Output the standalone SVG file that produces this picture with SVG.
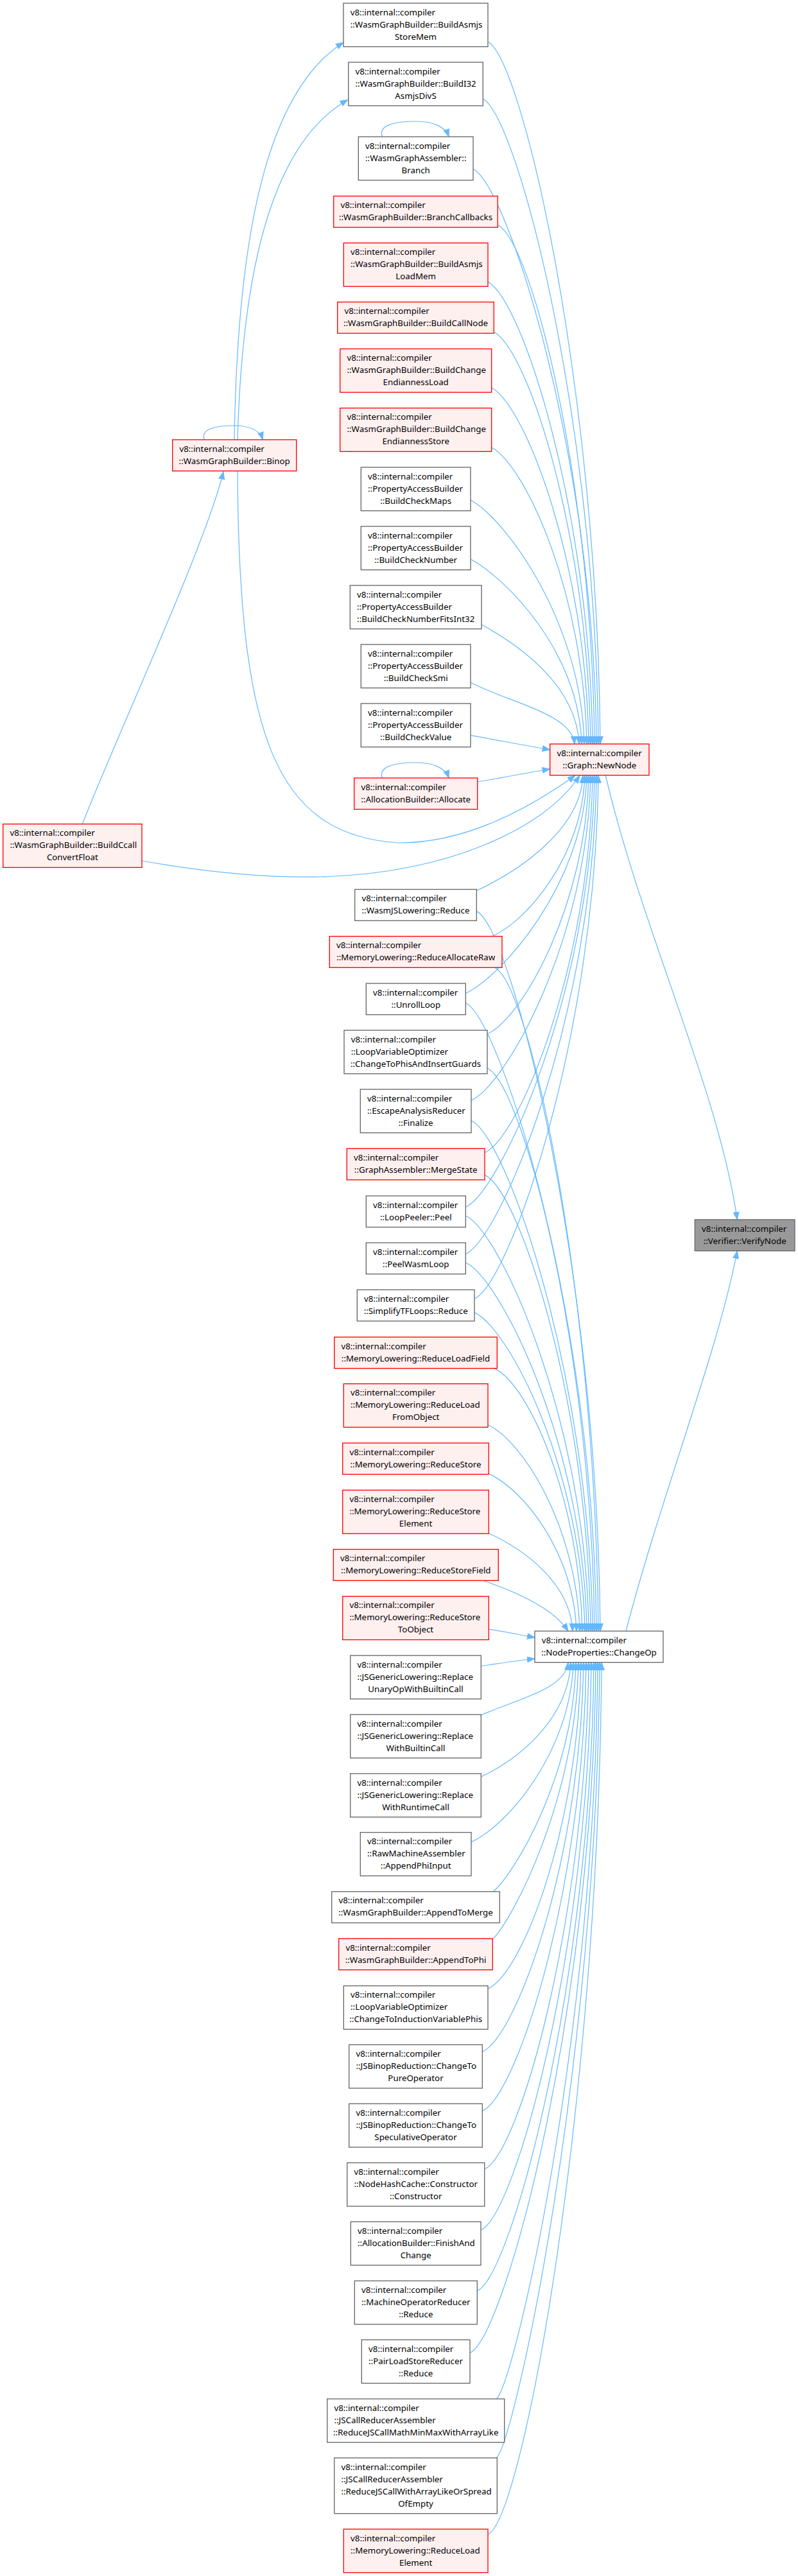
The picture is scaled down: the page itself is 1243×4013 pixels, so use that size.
<svg xmlns="http://www.w3.org/2000/svg" width="1243" height="4013" viewBox="0 0 1243 4013">
<style>
.n rect{stroke-width:1.33}
.w rect{fill:#ffffff;stroke:#666666}
.r rect{fill:#fff0f0;stroke:#ff0000}
.g rect{fill:#999999;stroke:#666666}
text{font-family:"Noto Sans","Liberation Sans",sans-serif;font-size:13.33px;fill:#000}
.m{text-anchor:middle}
#edges path{fill:none;stroke:#63b8ff;stroke-width:1.2;marker-end:url(#ah)}
</style>
<defs>
<marker id="ah" markerWidth="13" markerHeight="10" refX="12" refY="5" orient="auto" markerUnits="userSpaceOnUse">
<path d="M0,0.5 L12,5 L0,9.5 z" fill="#63b8ff" stroke="#63b8ff" stroke-width="1"/>
</marker>
</defs>
<rect x="0" y="0" width="1243" height="4013" fill="#ffffff"/>
<g id="edges">
<path d="M595.5,213 C589,196 612,189 648,189 C676,189 694,198 699,213"/>
<path d="M595.5,1212 C589,1195 612,1188 648,1188 C676,1188 694,1197 699,1212"/>
<path d="M318.3,685 C312,669 335,663 364,663 C390,663 405,671 409.3,685"/>
<path d="M365,685 C370,350 420,140 535,66"/>
<path d="M370,685 C378,400 430,220 541.7,155.4"/>
<path d="M128.3,1283.7 C180,1150 320,850 348,735"/>
<path d="M760,65 C815,95 931,612 935,1159"/>
<path d="M752.3,154 C807,184 928,657 932,1159"/>
<path d="M737,263 C792,293 925,711 929,1159"/>
<path d="M775.3,350 C830,380 922,754 926,1159"/>
<path d="M760,439 C815,469 919,799 923,1159"/>
<path d="M769.3,517 C824,547 916,838 920,1159"/>
<path d="M765.7,604 C820,634 913,881 917,1159"/>
<path d="M765.7,697 C820,727 910,928 914,1159"/>
<path d="M733,779 C788,809 906,969 910,1159"/>
<path d="M733,871 C788,901 902,1015 906,1159"/>
<path d="M750,973 C805,1003 898,1066 902,1159"/>
<path d="M733,1063 C788,1093 891,1111 895,1159"/>
<path d="M733,1145.7 C770,1152 810,1160 856.7,1168"/>
<path d="M743.7,1218 C780,1212 820,1204 856.7,1198"/>
<path d="M370,734 C372,1150 430,1300 620,1313 C730,1314 830,1255 896,1208"/>
<path d="M221,1341 C300,1355 400,1368 500,1366 C700,1360 850,1290 903,1208"/>
<path d="M742.3,1387.5 C797,1362 904,1298 908,1208"/>
<path d="M766.7,1458.6 C822,1434 907,1333 911,1208"/>
<path d="M725.3,1547.5 C780,1522 910,1378 914,1208"/>
<path d="M759,1610.7 C814,1586 913,1409 917,1208"/>
<path d="M734,1714.3 C789,1689 916,1461 920,1208"/>
<path d="M755,1795.7 C810,1771 919,1502 923,1208"/>
<path d="M725.3,1880.4 C780,1855 922,1544 926,1208"/>
<path d="M725.3,1953.6 C780,1929 925,1581 929,1208"/>
<path d="M739,2023.2 C794,1998 928,1616 932,1208"/>
<path d="M742.3,1419.6 C797,1445 931,1981 935,2541"/>
<path d="M770.7,1507.5 C826,1533 928,2025 932,2541"/>
<path d="M725.3,1562.5 C780,1588 925,2052 929,2541"/>
<path d="M759,1664 C814,1689 922,2103 926,2541"/>
<path d="M734,1745.7 C789,1771 919,2144 923,2541"/>
<path d="M755,1830.4 C810,1855 916,2186 920,2541"/>
<path d="M725.3,1894 C780,1919 913,2218 917,2541"/>
<path d="M725.3,1967 C780,1992 910,2254 914,2541"/>
<path d="M739,2044.6 C794,2070 907,2293 911,2541"/>
<path d="M769.3,2131.4 C824,2156 903,2337 907,2541"/>
<path d="M760,2219.6 C815,2245 899,2381 903,2541"/>
<path d="M761.3,2295.7 C816,2321 894,2419 898,2541"/>
<path d="M761.3,2388.6 C816,2414 888,2465 892,2541"/>
<path d="M751.7,2462 C790,2475 860,2502 885,2541"/>
<path d="M761.3,2538.2 C790,2542 810,2547 833,2551"/>
<path d="M749.3,2595.4 C780,2591 805,2587 833,2584"/>
<path d="M749.3,2672 C804,2647 881,2632 885,2589.7"/>
<path d="M749.3,2767.9 C804,2743 885,2680 889,2589.7"/>
<path d="M734,2869.6 C789,2845 889,2730 893,2589.7"/>
<path d="M768.3,2946.8 C800,2920 893,2769 897,2589.7"/>
<path d="M768.3,3020 C798,2990 897,2805 901,2589.7"/>
<path d="M760,3098.2 C815,3073 901,2844 905,2589.7"/>
<path d="M751.3,3196.4 C806,3171 905,2894 909,2589.7"/>
<path d="M751.3,3288.6 C806,3264 909,2940 913,2589.7"/>
<path d="M754.7,3379.3 C810,3354 913,2985 917,2589.7"/>
<path d="M749,3474.3 C804,3449 917,3032 921,2589.7"/>
<path d="M743.3,3568.9 C798,3544 921,3080 925,2589.7"/>
<path d="M732,3665.4 C787,3640 924,3128 928,2589.7"/>
<path d="M773.3,3737.1 C803,3707 927,3164 931,2589.7"/>
<path d="M773.3,3829 C803,3799 930,3210 934,2589.7"/>
<path d="M760,3948.3 C815,3923 933,3269 937,2589.7"/>
<path d="M943.3,1208 C1000,1450 1120,1700 1148.3,1900"/>
<path d="M975,2541 C1030,2330 1120,2100 1148.3,1948.7"/>
</g>
<g id="n_verify" class="n g"><rect x="1082.3" y="1900" width="155.7" height="48.7"/><text x="1093" y="1918.5">v8::internal::compiler</text><text class="m" x="1160.2" y="1937.5">::Verifier::VerifyNode</text></g>
<g id="n_newnode" class="n r"><rect x="856.7" y="1159" width="154.3" height="48.7"/><text x="867.4" y="1177.5">v8::internal::compiler</text><text class="m" x="933.9" y="1196.5">::Graph::NewNode</text></g>
<g id="n_changeop" class="n w"><rect x="833" y="2541" width="200" height="48.7"/><text x="843.7" y="2559.5">v8::internal::compiler</text><text class="m" x="933" y="2578.5">::NodeProperties::ChangeOp</text></g>
<g id="n_binop" class="n r"><rect x="268.7" y="685" width="193" height="48.7"/><text x="279.4" y="703.5">v8::internal::compiler</text><text class="m" x="365.2" y="722.5">::WasmGraphBuilder::Binop</text></g>
<g id="n_convertfloat" class="n r"><rect x="4.7" y="1283.7" width="216.3" height="67.7"/><text x="15.4" y="1302.2">v8::internal::compiler</text><text x="15.4" y="1321.2">::WasmGraphBuilder::BuildCcall</text><text class="m" x="112.9" y="1340.2">ConvertFloat</text></g>
<g id="n01" class="n w"><rect x="535" y="5" width="225" height="67.7"/><text x="545.7" y="23.5">v8::internal::compiler</text><text x="545.7" y="42.5">::WasmGraphBuilder::BuildAsmjs</text><text class="m" x="647.5" y="61.5">StoreMem</text></g>
<g id="n02" class="n w"><rect x="542.7" y="97" width="209.6" height="67.7"/><text x="553.4" y="115.5">v8::internal::compiler</text><text x="553.4" y="134.5">::WasmGraphBuilder::BuildI32</text><text class="m" x="647.5" y="153.5">AsmjsDivS</text></g>
<g id="n03" class="n w"><rect x="558.3" y="213" width="178.7" height="67.7"/><text x="569" y="231.5">v8::internal::compiler</text><text x="569" y="250.5">::WasmGraphAssembler::</text><text class="m" x="647.7" y="269.5">Branch</text></g>
<g id="n04" class="n r"><rect x="519.7" y="305.5" width="255.6" height="48.7"/><text x="530.4" y="324">v8::internal::compiler</text><text class="m" x="647.5" y="343">::WasmGraphBuilder::BranchCallbacks</text></g>
<g id="n05" class="n r"><rect x="535.3" y="378.5" width="224.7" height="67.7"/><text x="546" y="397">v8::internal::compiler</text><text x="546" y="416">::WasmGraphBuilder::BuildAsmjs</text><text class="m" x="647.7" y="435">LoadMem</text></g>
<g id="n06" class="n r"><rect x="525.7" y="470.5" width="243.6" height="48.7"/><text x="536.4" y="489">v8::internal::compiler</text><text class="m" x="647.5" y="508">::WasmGraphBuilder::BuildCallNode</text></g>
<g id="n07" class="n r"><rect x="529.7" y="543.5" width="236" height="67.7"/><text x="540.4" y="562">v8::internal::compiler</text><text x="540.4" y="581">::WasmGraphBuilder::BuildChange</text><text class="m" x="647.7" y="600">EndiannessLoad</text></g>
<g id="n08" class="n r"><rect x="529.7" y="635.7" width="236" height="67.7"/><text x="540.4" y="654.2">v8::internal::compiler</text><text x="540.4" y="673.2">::WasmGraphBuilder::BuildChange</text><text class="m" x="647.7" y="692.2">EndiannessStore</text></g>
<g id="n09" class="n w"><rect x="562.3" y="728" width="170.7" height="67.7"/><text x="573" y="746.5">v8::internal::compiler</text><text x="573" y="765.5">::PropertyAccessBuilder</text><text class="m" x="647.7" y="784.5">::BuildCheckMaps</text></g>
<g id="n10" class="n w"><rect x="562.3" y="820" width="170.7" height="67.7"/><text x="573" y="838.5">v8::internal::compiler</text><text x="573" y="857.5">::PropertyAccessBuilder</text><text class="m" x="647.7" y="876.5">::BuildCheckNumber</text></g>
<g id="n11" class="n w"><rect x="545.3" y="912" width="204.7" height="67.7"/><text x="556" y="930.5">v8::internal::compiler</text><text x="556" y="949.5">::PropertyAccessBuilder</text><text class="m" x="647.7" y="968.5">::BuildCheckNumberFitsInt32</text></g>
<g id="n12" class="n w"><rect x="562.3" y="1004" width="170.7" height="67.7"/><text x="573" y="1022.5">v8::internal::compiler</text><text x="573" y="1041.5">::PropertyAccessBuilder</text><text class="m" x="647.7" y="1060.5">::BuildCheckSmi</text></g>
<g id="n13" class="n w"><rect x="562.3" y="1096" width="170.7" height="67.7"/><text x="573" y="1114.5">v8::internal::compiler</text><text x="573" y="1133.5">::PropertyAccessBuilder</text><text class="m" x="647.7" y="1152.5">::BuildCheckValue</text></g>
<g id="n14" class="n r"><rect x="551.7" y="1212" width="192" height="48.7"/><text x="562.4" y="1230.5">v8::internal::compiler</text><text class="m" x="647.7" y="1249.5">::AllocationBuilder::Allocate</text></g>
<g id="n15" class="n w"><rect x="552.7" y="1385.5" width="189.6" height="48.7"/><text x="563.4" y="1404">v8::internal::compiler</text><text class="m" x="647.5" y="1423">::WasmJSLowering::Reduce</text></g>
<g id="n16" class="n r"><rect x="513.3" y="1458.6" width="268.7" height="48.7"/><text x="524" y="1477.1">v8::internal::compiler</text><text class="m" x="647.7" y="1496.1">::MemoryLowering::ReduceAllocateRaw</text></g>
<g id="n17" class="n w"><rect x="570.3" y="1532" width="155" height="48.7"/><text x="581" y="1550.5">v8::internal::compiler</text><text class="m" x="647.8" y="1569.5">::UnrollLoop</text></g>
<g id="n18" class="n w"><rect x="536" y="1605" width="223" height="67.7"/><text x="546.7" y="1623.5">v8::internal::compiler</text><text x="546.7" y="1642.5">::LoopVariableOptimizer</text><text class="m" x="647.5" y="1661.5">::ChangeToPhisAndInsertGuards</text></g>
<g id="n19" class="n w"><rect x="561.3" y="1697" width="172.7" height="67.7"/><text x="572" y="1715.5">v8::internal::compiler</text><text x="572" y="1734.5">::EscapeAnalysisReducer</text><text class="m" x="647.7" y="1753.5">::Finalize</text></g>
<g id="n20" class="n r"><rect x="540.3" y="1789.3" width="214.7" height="48.7"/><text x="551" y="1807.8">v8::internal::compiler</text><text class="m" x="647.7" y="1826.8">::GraphAssembler::MergeState</text></g>
<g id="n21" class="n w"><rect x="570.3" y="1863" width="155" height="48.7"/><text x="581" y="1881.5">v8::internal::compiler</text><text class="m" x="647.8" y="1900.5">::LoopPeeler::Peel</text></g>
<g id="n22" class="n w"><rect x="570.3" y="1936" width="155" height="48.7"/><text x="581" y="1954.5">v8::internal::compiler</text><text class="m" x="647.8" y="1973.5">::PeelWasmLoop</text></g>
<g id="n23" class="n w"><rect x="556.3" y="2009.3" width="182.7" height="48.7"/><text x="567" y="2027.8">v8::internal::compiler</text><text class="m" x="647.7" y="2046.8">::SimplifyTFLoops::Reduce</text></g>
<g id="n24" class="n r"><rect x="520.7" y="2083" width="253.6" height="48.7"/><text x="531.4" y="2101.5">v8::internal::compiler</text><text class="m" x="647.5" y="2120.5">::MemoryLowering::ReduceLoadField</text></g>
<g id="n25" class="n r"><rect x="535.3" y="2155.7" width="224.7" height="67.7"/><text x="546" y="2174.2">v8::internal::compiler</text><text x="546" y="2193.2">::MemoryLowering::ReduceLoad</text><text class="m" x="647.7" y="2212.2">FromObject</text></g>
<g id="n26" class="n r"><rect x="533.7" y="2248" width="227.6" height="48.7"/><text x="544.4" y="2266.5">v8::internal::compiler</text><text class="m" x="647.5" y="2285.5">::MemoryLowering::ReduceStore</text></g>
<g id="n27" class="n r"><rect x="533.7" y="2321.4" width="227.6" height="67.7"/><text x="544.4" y="2339.9">v8::internal::compiler</text><text x="544.4" y="2358.9">::MemoryLowering::ReduceStore</text><text class="m" x="647.5" y="2377.9">Element</text></g>
<g id="n28" class="n r"><rect x="519.3" y="2413.6" width="257" height="48.7"/><text x="530" y="2432.1">v8::internal::compiler</text><text class="m" x="647.8" y="2451.1">::MemoryLowering::ReduceStoreField</text></g>
<g id="n29" class="n r"><rect x="533.7" y="2486.8" width="227.6" height="67.7"/><text x="544.4" y="2505.3">v8::internal::compiler</text><text x="544.4" y="2524.3">::MemoryLowering::ReduceStore</text><text class="m" x="647.5" y="2543.3">ToObject</text></g>
<g id="n30" class="n w"><rect x="545.7" y="2579" width="203.6" height="67.7"/><text x="556.4" y="2597.5">v8::internal::compiler</text><text x="556.4" y="2616.5">::JSGenericLowering::Replace</text><text class="m" x="647.5" y="2635.5">UnaryOpWithBuiltinCall</text></g>
<g id="n31" class="n w"><rect x="545.7" y="2671" width="203.6" height="67.7"/><text x="556.4" y="2689.5">v8::internal::compiler</text><text x="556.4" y="2708.5">::JSGenericLowering::Replace</text><text class="m" x="647.5" y="2727.5">WithBuiltinCall</text></g>
<g id="n32" class="n w"><rect x="545.7" y="2763" width="203.6" height="67.7"/><text x="556.4" y="2781.5">v8::internal::compiler</text><text x="556.4" y="2800.5">::JSGenericLowering::Replace</text><text class="m" x="647.5" y="2819.5">WithRuntimeCall</text></g>
<g id="n33" class="n w"><rect x="561.3" y="2854.6" width="172.7" height="67.7"/><text x="572" y="2873.1">v8::internal::compiler</text><text x="572" y="2892.1">::RawMachineAssembler</text><text class="m" x="647.7" y="2911.1">::AppendPhiInput</text></g>
<g id="n34" class="n w"><rect x="516.7" y="2946.8" width="261.6" height="48.7"/><text x="527.4" y="2965.3">v8::internal::compiler</text><text class="m" x="647.5" y="2984.3">::WasmGraphBuilder::AppendToMerge</text></g>
<g id="n35" class="n r"><rect x="527.7" y="3020" width="239.6" height="48.7"/><text x="538.4" y="3038.5">v8::internal::compiler</text><text class="m" x="647.5" y="3057.5">::WasmGraphBuilder::AppendToPhi</text></g>
<g id="n36" class="n w"><rect x="535.3" y="3093.6" width="224.7" height="67.7"/><text x="546" y="3112.1">v8::internal::compiler</text><text x="546" y="3131.1">::LoopVariableOptimizer</text><text class="m" x="647.7" y="3150.1">::ChangeToInductionVariablePhis</text></g>
<g id="n37" class="n w"><rect x="543.7" y="3185.4" width="207.6" height="67.7"/><text x="554.4" y="3203.9">v8::internal::compiler</text><text x="554.4" y="3222.9">::JSBinopReduction::ChangeTo</text><text class="m" x="647.5" y="3241.9">PureOperator</text></g>
<g id="n38" class="n w"><rect x="543.7" y="3277.3" width="207.6" height="67.7"/><text x="554.4" y="3295.8">v8::internal::compiler</text><text x="554.4" y="3314.8">::JSBinopReduction::ChangeTo</text><text class="m" x="647.5" y="3333.8">SpeculativeOperator</text></g>
<g id="n39" class="n w"><rect x="540.7" y="3369.3" width="214" height="67.7"/><text x="551.4" y="3387.8">v8::internal::compiler</text><text x="551.4" y="3406.8">::NodeHashCache::Constructor</text><text class="m" x="647.7" y="3425.8">::Constructor</text></g>
<g id="n40" class="n w"><rect x="546.3" y="3461.1" width="202.7" height="67.7"/><text x="557" y="3479.6">v8::internal::compiler</text><text x="557" y="3498.6">::AllocationBuilder::FinishAnd</text><text class="m" x="647.7" y="3517.6">Change</text></g>
<g id="n41" class="n w"><rect x="552.3" y="3553.2" width="191" height="67.7"/><text x="563" y="3571.7">v8::internal::compiler</text><text x="563" y="3590.7">::MachineOperatorReducer</text><text class="m" x="647.8" y="3609.7">::Reduce</text></g>
<g id="n42" class="n w"><rect x="563.3" y="3645" width="168.7" height="67.7"/><text x="574" y="3663.5">v8::internal::compiler</text><text x="574" y="3682.5">::PairLoadStoreReducer</text><text class="m" x="647.7" y="3701.5">::Reduce</text></g>
<g id="n43" class="n w"><rect x="509.7" y="3737.1" width="276" height="67.7"/><text x="520.4" y="3755.6">v8::internal::compiler</text><text x="520.4" y="3774.6">::JSCallReducerAssembler</text><text class="m" x="647.7" y="3793.6">::ReduceJSCallMathMinMaxWithArrayLike</text></g>
<g id="n44" class="n w"><rect x="520.7" y="3829" width="253.6" height="86.7"/><text x="531.4" y="3847.5">v8::internal::compiler</text><text x="531.4" y="3866.5">::JSCallReducerAssembler</text><text x="531.4" y="3885.5">::ReduceJSCallWithArrayLikeOrSpread</text><text class="m" x="647.5" y="3904.5">OfEmpty</text></g>
<g id="n45" class="n r"><rect x="535.3" y="3940" width="224.7" height="67.7"/><text x="546" y="3958.5">v8::internal::compiler</text><text x="546" y="3977.5">::MemoryLowering::ReduceLoad</text><text class="m" x="647.7" y="3996.5">Element</text></g>
</svg>
